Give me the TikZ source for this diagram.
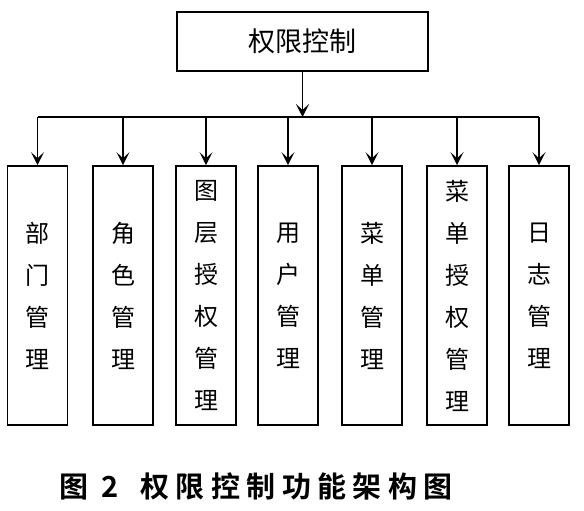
\documentclass[tikz,border=0pt]{standalone}
\usepackage{fontspec}
\newfontfamily\cjk{Noto Sans CJK SC}
\newfontfamily\capfont[LetterSpace=22]{Noto Sans CJK SC Bold}
\usetikzlibrary{arrows.meta}

\tikzset{
  box/.style={draw, line width=1.6pt, minimum width=60pt, minimum height=259pt,
    inner sep=0pt, align=center, font=\cjk\fontsize{24}{42}\selectfont},
  link/.style={line width=1.6pt},
  arr/.style={line width=1.6pt, -{Stealth[length=13pt,width=13pt,inset=6pt]}}
}

\begin{document}
\begin{tikzpicture}[x=1pt,y=-1pt]

\useasboundingbox (0,0) rectangle (584,511);

\node [draw, line width=1.6pt, minimum width=251pt, minimum height=59pt,
  font=\cjk\fontsize{27}{30}\selectfont] (top) at (302.5,41.5) {权限控制};

\coordinate (bus) at (302.5,117);

\node [box] (dept) at (37.5,295.5) {部\\门\\管\\理};
\node [box] (role) at (123,295.5) {角\\色\\管\\理};
\node [box] (layer) at (206,295.5) {图\\层\\授\\权\\管\\理};
\node [box] (user) at (288,295.5) {用\\户\\管\\理};
\node [box] (menu) at (372,295.5) {菜\\单\\管\\理};
\node [box] (menuauth) at (457,295.5) {菜\\单\\授\\权\\管\\理};
\node [box] (log) at (539,295.5) {日\\志\\管\\理};

\draw [arr] (top) -- (bus);
\draw [link] (dept.north |- bus) -- (log.north |- bus);

\draw [arr] (dept.north |- bus) -- (dept);
\draw [arr] (role.north |- bus) -- (role);
\draw [arr] (layer.north |- bus) -- (layer);
\draw [arr] (user.north |- bus) -- (user);
\draw [arr] (menu.north |- bus) -- (menu);
\draw [arr] (menuauth.north |- bus) -- (menuauth);
\draw [arr] (log.north |- bus) -- (log);

\node [font=\capfont\fontsize{29}{32}\selectfont] (caption) at (256,486)
  {图 2\hspace{22pt}权限控制功能架构图};

\end{tikzpicture}
\end{document}
